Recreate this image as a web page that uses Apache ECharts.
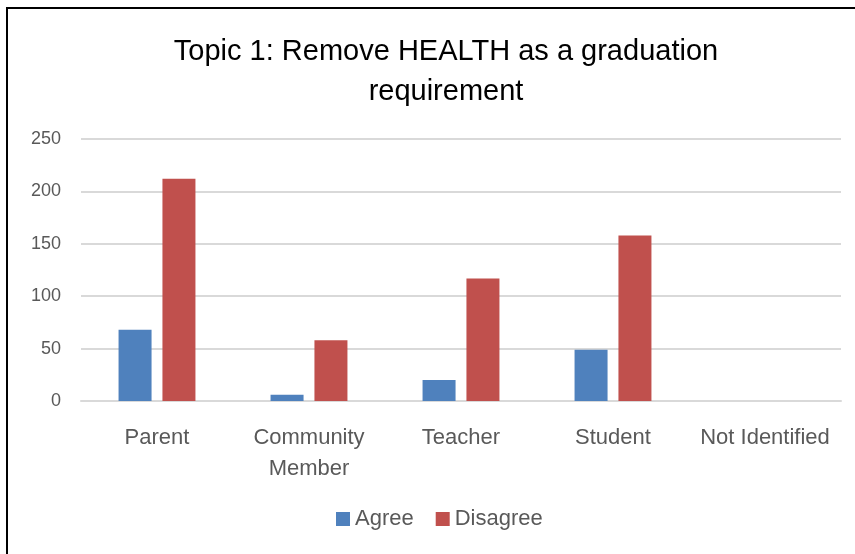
<!DOCTYPE html>
<html>
<head>
<meta charset="utf-8">
<script src="https://cdn.jsdelivr.net/npm/echarts@6/dist/echarts.min.js"></script>
<style>
  html, body { margin: 0; padding: 0; background: #fff; }
  #frame { position: absolute; left: 6px; top: 7px; width: 900px; height: 600px; border: 2px solid #000; box-sizing: border-box; }
  #chart { position: absolute; left: 0; top: 0; width: 855px; height: 554px; }
</style>
</head>
<body>
<div id="frame"></div>
<div id="chart"></div>
<script>
// categories and values
var categories = ["Parent", "Community\nMember", "Teacher", "Student", "Not Identified"];
var agree = [68, 6, 20, 49, 0];
var disagree = [212, 58, 117, 158, 0];
var yTicks = [0, 50, 100, 150, 200, 250];

var chart = echarts.init(document.getElementById("chart"));
var labelColor = "#595959";

chart.setOption({
  animation: false,
  title: {
    text: "Topic 1: Remove HEALTH as a graduation\nrequirement",
    left: 441,
    textAlign: "center",
    top: 27,
    textStyle: {
      fontFamily: "Liberation Sans",
      fontWeight: "normal",
      fontSize: 29,
      lineHeight: 40,
      color: "#000",
    },
  },
  legend: {
    bottom: 19,
    left: 331,
    itemWidth: 14,
    itemHeight: 14,
    itemGap: 22,
    textStyle: { fontFamily: "Liberation Sans", fontSize: 22, color: labelColor },
    data: [
      { name: "Agree", icon: "rect" },
      { name: "Disagree", icon: "rect" },
    ],
  },
  grid: { left: 81, right: 14, top: 139, bottom: 153 },
  xAxis: {
    type: "category",
    data: categories,
    axisLine: { lineStyle: { color: "#d9d9d9", width: 2 } },
    axisTick: { show: false },
    axisLabel: {
      fontFamily: "Liberation Sans",
      fontSize: 22,
      color: labelColor,
      margin: 21,
      lineHeight: 31,
      interval: 0,
    },
  },
  yAxis: {
    type: "value",
    min: yTicks[0],
    max: yTicks[yTicks.length - 1],
    interval: 50,
    axisLine: { show: false },
    axisTick: { show: false },
    axisLabel: { fontFamily: "Liberation Sans", fontSize: 18, color: labelColor, margin: 20 },
    splitLine: { lineStyle: { color: "#d9d9d9", width: 2 } },
  },
  series: [
    {
      name: "Agree",
      type: "bar",
      data: agree,
      barWidth: 33,
      barGap: "33%",
      itemStyle: { color: "#4f81bd" },
    },
    {
      name: "Disagree",
      type: "bar",
      data: disagree,
      barWidth: 33,
      itemStyle: { color: "#c0504d" },
    },
  ],
});
</script>
</body>
</html>
